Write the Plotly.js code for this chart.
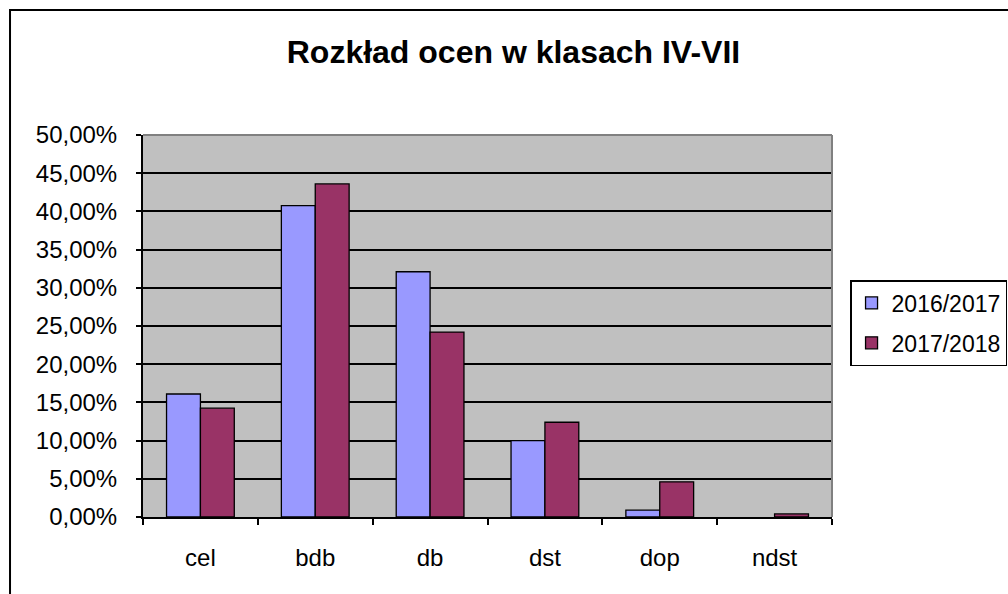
<!DOCTYPE html>
<html>
<head>
<meta charset="utf-8">
<script src="https://cdn.plot.ly/plotly-3.0.1.min.js"></script>
<style>
html,body{margin:0;padding:0;background:#fff;overflow:hidden;}
#chart{width:1008px;height:594px;}
</style>
</head>
<body>
<div id="chart"></div>
<script>
const categories = ['cel', 'bdb', 'db', 'dst', 'dop', 'ndst'];
const seriesNames = ['2016/2017', '2017/2018'];
const values2016 = [0.161, 0.4075, 0.321, 0.100, 0.009, 0.000];
const values2017 = [0.1425, 0.436, 0.242, 0.124, 0.046, 0.004];
const colors = ['#9999FF', '#993366'];
const yTicks = [0, 0.05, 0.10, 0.15, 0.20, 0.25, 0.30, 0.35, 0.40, 0.45, 0.50];

const FONT = 'Liberation Sans, Arial, sans-serif';

const traces = [values2016, values2017].map((vals, i) => ({
  type: 'bar',
  name: seriesNames[i],
  x: categories,
  y: vals,
  legendgroup: 'g' + i,
  marker: {color: colors[i], line: {color: '#000', width: vals.map(v => v > 0 ? 1.3 : 0)}},
  hoverinfo: 'skip'
}));

const layout = {
  width: 1008, height: 594,
  margin: {l: 143, r: 176, t: 135, b: 77, pad: 0},
  paper_bgcolor: '#ffffff',
  plot_bgcolor: '#C0C0C0',
  separators: ',.',
  font: {family: FONT, color: '#000', size: 24},
  title: {
    text: '<b>Rozkład ocen w klasach IV-VII</b>',
    font: {family: FONT, size: 32, color: '#000'},
    x: 0.5094, xanchor: 'center',
    y: 0.912, yanchor: 'middle'
  },
  barmode: 'group',
  bargap: 0.41,
  bargroupgap: 0,
  xaxis: {
    type: 'category',
    tickson: 'boundaries',
    ticks: 'outside', ticklen: 6, tickwidth: 2, tickcolor: '#000',
    showline: true, linecolor: '#000', linewidth: 2,
    showgrid: false, zeroline: false,
    ticklabelstandoff: 18,
    tickfont: {family: FONT, size: 24, color: '#000'}
  },
  yaxis: {
    range: [0, 0.5],
    tickvals: yTicks,
    tickformat: '.2%',
    ticks: 'outside', ticklen: 5, tickwidth: 2, tickcolor: '#000',
    showline: true, linecolor: '#000', linewidth: 2,
    showgrid: true, gridcolor: '#000', gridwidth: 2,
    zeroline: false,
    ticklabelstandoff: 14,
    tickfont: {family: FONT, size: 24, color: '#000'}
  },
  legend: {
    xref: 'container', yref: 'container',
    x: 0.8433, xanchor: 'left',
    y: 0.5286, yanchor: 'top',
    bgcolor: '#ffffff',
    bordercolor: '#000', borderwidth: 1.5,
    font: {family: FONT, size: 23, color: '#000'},
    itemwidth: 30,
    traceorder: 'grouped',
    tracegroupgap: 7,
    itemclick: false, itemdoubleclick: false
  },
  shapes: [
    {type: 'line', xref: 'paper', yref: 'paper', x0: 0, x1: 1, y0: 1, y1: 1,
     line: {color: '#808080', width: 2}, layer: 'above'},
    {type: 'line', xref: 'paper', yref: 'paper', x0: 1, x1: 1, y0: 0, y1: 1,
     line: {color: '#808080', width: 2}, layer: 'above'},
    {type: 'rect', xref: 'paper', yref: 'paper', x0: -0.193, x1: 1.6, y0: -1, y1: 1.3272,
     line: {color: '#000', width: 2}, fillcolor: 'rgba(0,0,0,0)', layer: 'above'}
  ],
  showlegend: true
};

Plotly.newPlot('chart', traces, layout, {staticPlot: true, displayModeBar: false});
</script>
</body>
</html>
